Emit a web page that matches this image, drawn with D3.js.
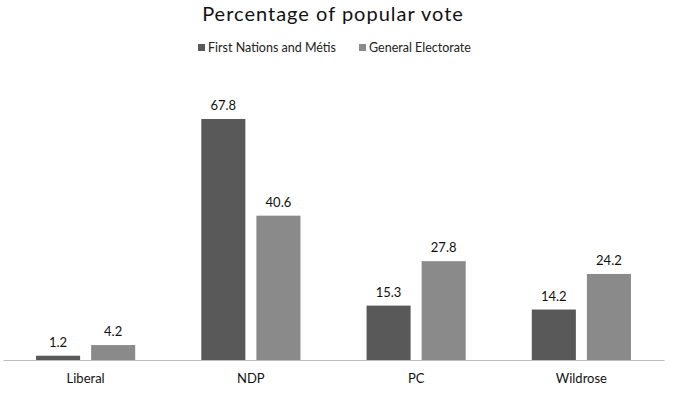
<!DOCTYPE html>
<html><head><meta charset="utf-8">
<script src="https://cdn.jsdelivr.net/npm/d3@7"></script>
<style>body{margin:0;background:#fff}svg{display:block}</style>
</head><body>
<svg id="c" width="675" height="398"></svg>
<script>
const categories = ["Liberal", "NDP", "PC", "Wildrose"];
const seriesNames = ["First Nations and Métis", "General Electorate"];
const firstNations = [1.2, 67.8, 15.3, 14.2];
const general = [4.2, 40.6, 27.8, 24.2];
const colors = ["#595959", "#8a8a8a"];
const title = "Percentage of popular vote";

const svg = d3.select("#c");
const values = [firstNations, general];
const x0 = d3.scaleBand().domain(categories).range([3, 664]).paddingInner(0.4).paddingOuter(0.2);
const x1 = d3.scaleBand().domain(d3.range(seriesNames.length)).range([0, x0.bandwidth()]).paddingInner(0.2).paddingOuter(0);
const y = d3.scaleLinear().domain([0, 80]).range([360, 360 - 80 * 3.555]);

svg.append("text").attr("x", 333).attr("y", 21).attr("text-anchor", "middle")
  .attr("font-family", "Lato").attr("font-size", 20).attr("fill", "#111").attr("letter-spacing", 1)
  .text(title);

// legend
const legX = [198, 359];
seriesNames.forEach((s, i) => {
  svg.append("rect").attr("x", legX[i]).attr("y", 44).attr("width", 7).attr("height", 7).attr("fill", colors[i]);
  svg.append("text").attr("x", legX[i] + 10).attr("y", 52).attr("font-family", "Lato").attr("font-size", 12.5)
    .attr("fill", "#222").text(s);
});

const g = svg.append("g");
categories.forEach((c, ci) => {
  values.forEach((arr, si) => {
    const v = arr[ci];
    const bx = x0(c) + x1(si);
    g.append("rect").attr("x", bx).attr("y", y(v)).attr("width", x1.bandwidth()).attr("height", y(0) - y(v))
      .attr("fill", colors[si]);
    g.append("text").attr("x", bx + x1.bandwidth() / 2).attr("y", y(v) - 9).attr("text-anchor", "middle")
      .attr("font-family", "Lato").attr("font-size", 13).attr("fill", "#111").text(v.toFixed(1));
  });
});

const axis = svg.append("g").attr("transform", "translate(0,360)")
  .call(d3.axisBottom(x0).tickSize(0).tickPadding(14));
axis.select(".domain").attr("stroke", "#bdbdbd").attr("stroke-width", 1.2);
axis.selectAll("text").attr("font-family", "Lato").attr("font-size", 13).attr("fill", "#111");
</script>
</body></html>
